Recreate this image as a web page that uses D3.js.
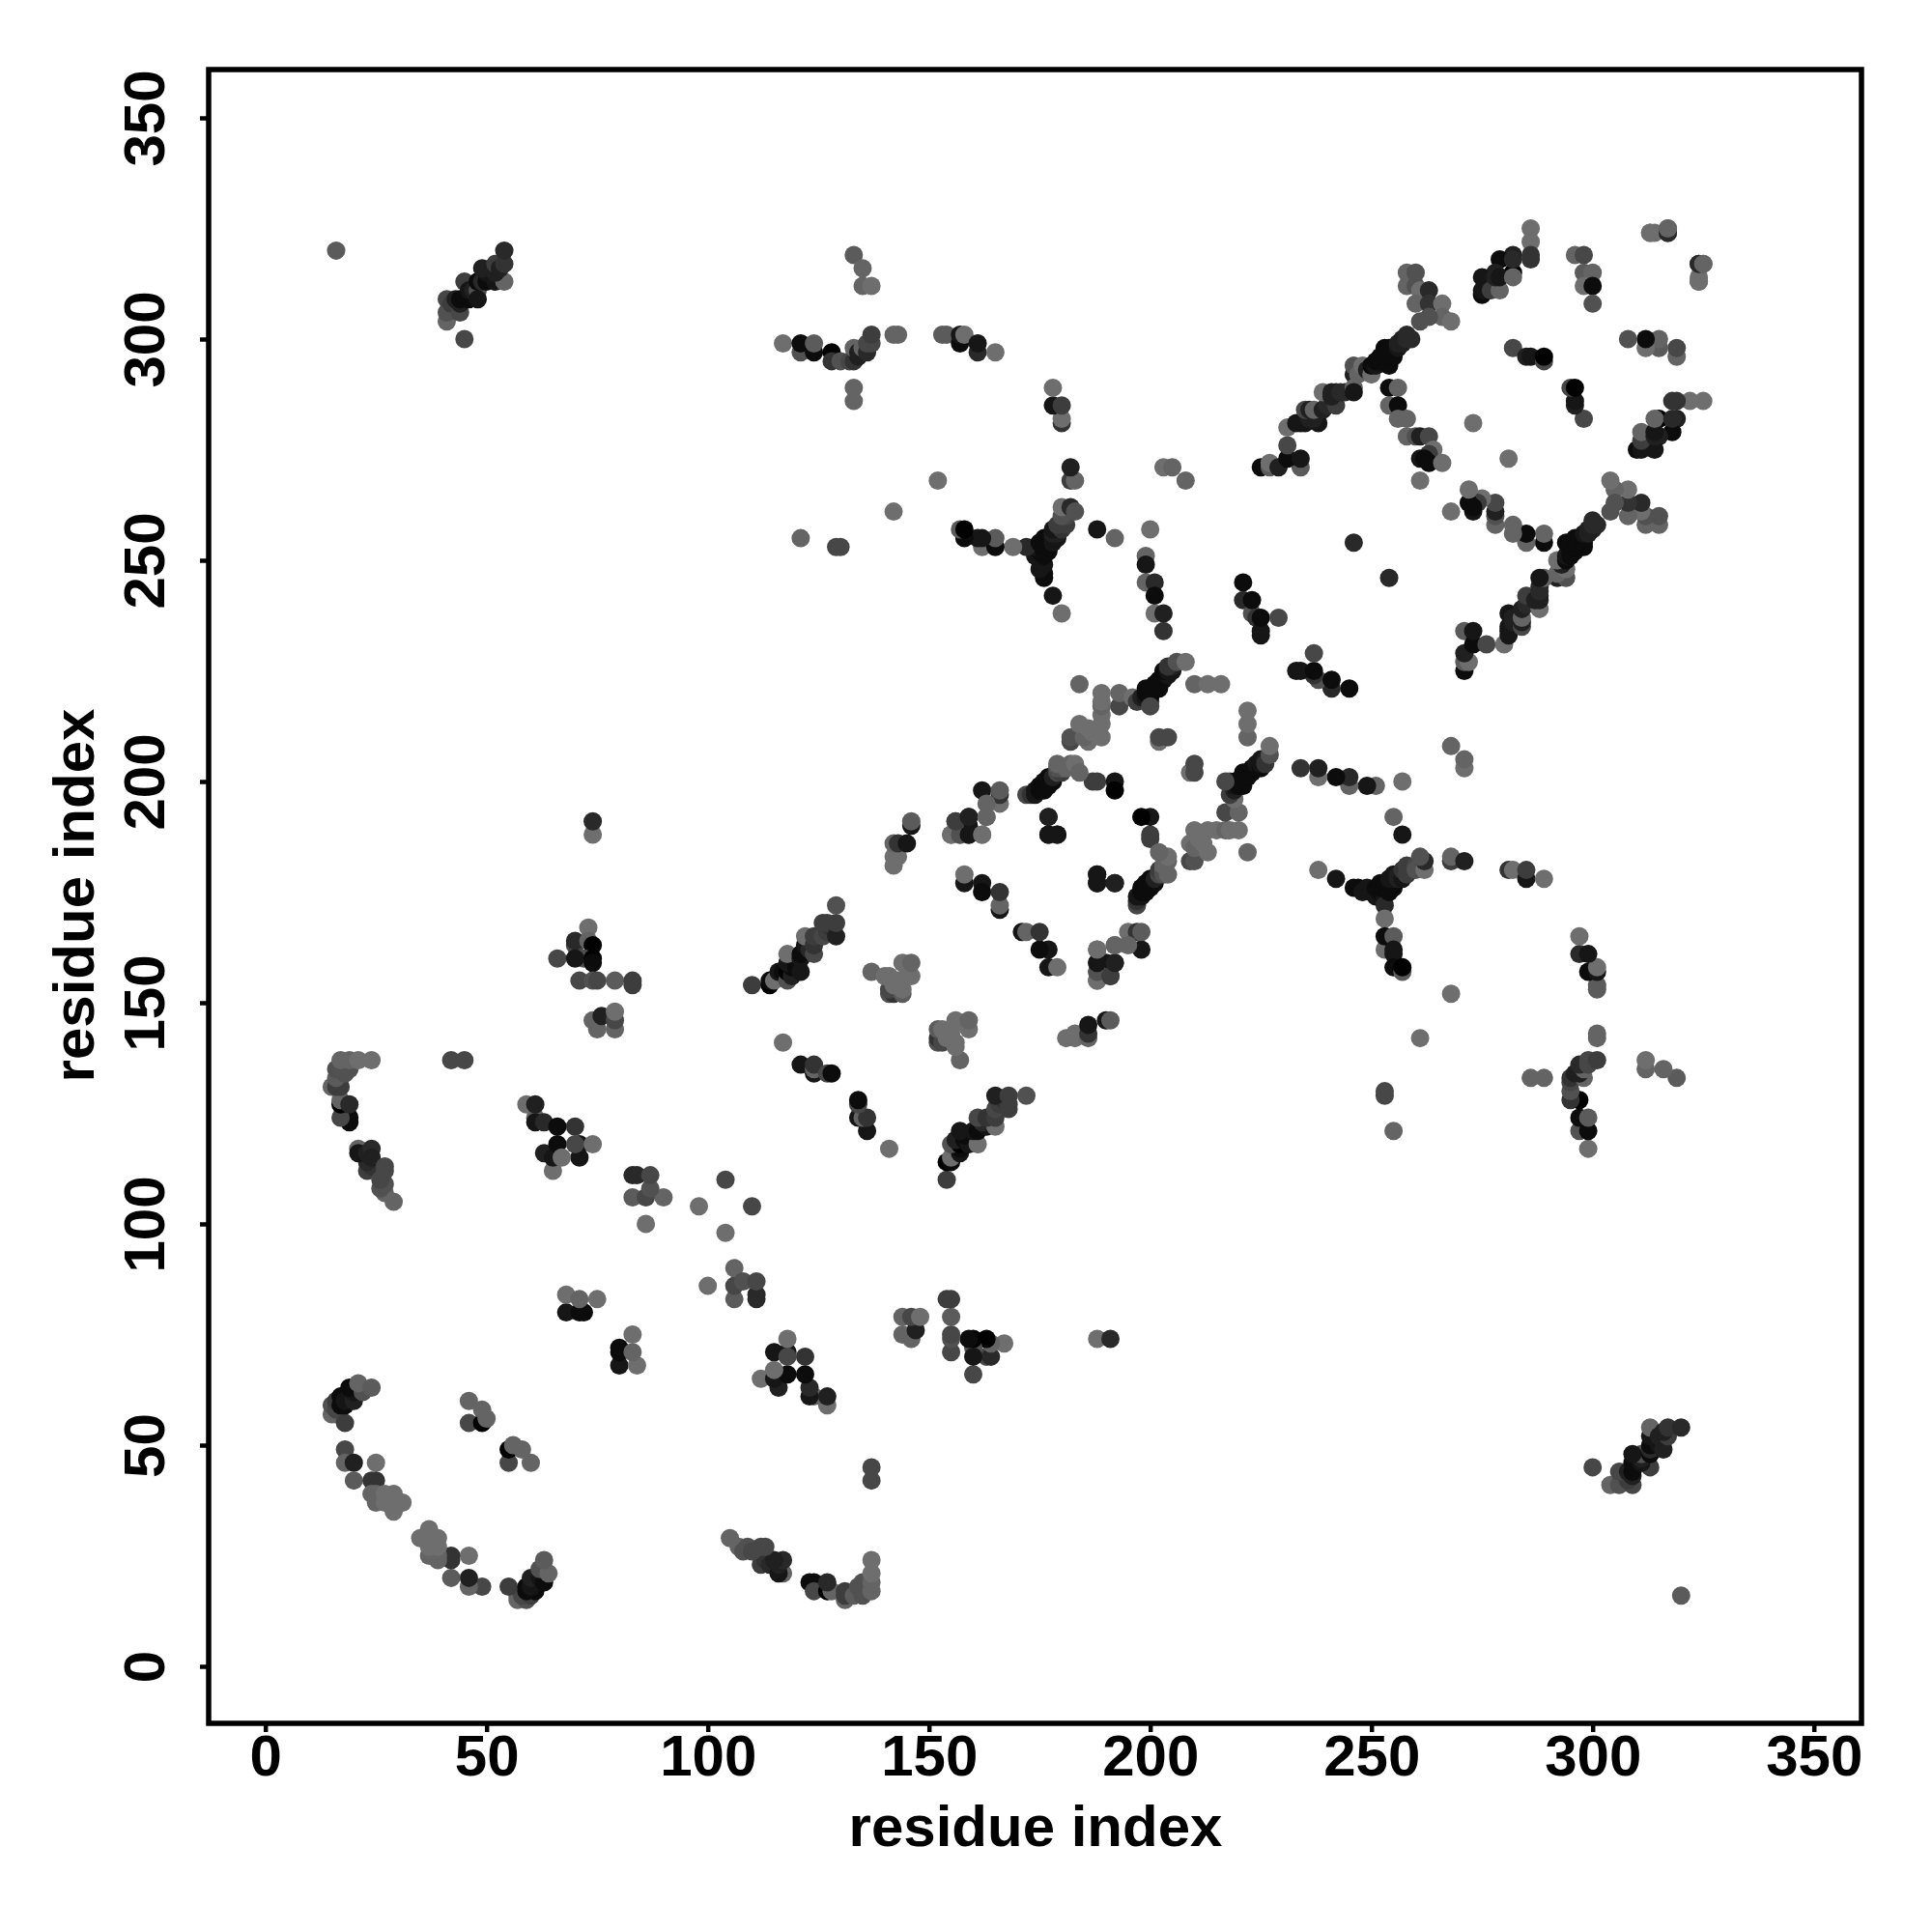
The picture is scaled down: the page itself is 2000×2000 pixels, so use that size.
<!DOCTYPE html>
<html>
<head>
<meta charset="utf-8">
<script src="https://cdn.jsdelivr.net/npm/d3@7"></script>
<style>html,body{margin:0;padding:0;background:#fff}svg{display:block}</style>
</head>
<body>
<div id="chart"></div>
<script>
// Each contact is [residue i, residue j, shade level]; the map is symmetric, both (i,j) and (j,i) are plotted.
const axisTicks = [0,50,100,150,200,250,300,350];
const axisTitle = "residue index";
const nTermArc = [[16,57,9],[15,57,10],[15,59,8],[16,58,7],[16,60,6],[18,55,6],[17,59,1],[18,59,1],[17,61,1],[18,60,2],[19,61,2],[20,60,3],[20,62,2],[19,63,1],[22,62,8],[21,64,10],[24,63,9],
 [18,49,7],[18,46,10],[20,46,3],[25,46,11],[20,42,9],[24,42,5],[25,42,5],[24,39,10],[25,39,10],[25,37,10],[27,39,11],[29,39,11],[27,37,11],[28,38,11],[31,37,11],[29,35,11]];
const nTermPatch = [[46,55,7],[49,55,0],[46,60,10],[49,58,10],[50,56,10],[68,80,2],[71,80,1],[72,80,1],[68,84,11],[71,83,10],[75,83,11],[86,100,11]];
const arcC = [[19,123,1],[19,124,1],[17,124,7],[17,127,0],[17,128,10],[19,127,4],[15,131,10],[16,131,6],[17,131,6],[16,133,9],[18,134,8],[16,135,8],[19,135,8],[17,137,10],[19,137,10],[21,137,11],[24,137,11],
 [23,112,6],[24,113,5],[23,114,4],[21,117,10],[21,116,2],[23,116,3],[24,117,4],[24,115,3],[29,105,10],[27,107,10],[26,108,8],[27,109,8],[26,110,7],[27,113,7],[27,112,7],[42,137,7],[45,137,7]];
const bandA = [[59,127,11],[61,124,10],[61,123,2],[61,127,3],[63,123,4],[66,122,1],[70,122,5],[65,112,11],[63,116,3],[65,115,2],[66,118,1],[71,115,2],[71,118,2],[70,118,7],[67,115,11],[74,118,11],
 [83,106,9],[86,106,7],[90,106,10],[87,108,8],[83,111,4],[84,111,4],[87,111,7],[98,104,11],[104,110,7]];
const bandB = [[74,188,11],[74,191,4],[73,167,11],[70,163,7],[70,164,4],[73,164,10],[74,163,0],[66,160,7],[72,160,8],[70,160,2],[74,160,0],[74,159,1],[71,155,7],[74,155,8],[75,155,7],[79,155,9],[83,154,6],[83,155,6],
 [75,144,10],[74,146,10],[76,147,3],[79,144,10],[79,146,7],[79,148,11]];
const chain0 = [[110,154,6],[114,154,0],[114,155,1],[115,155,11],[116,157,2],[117,157,1],[118,155,8],[118,157,0],[119,156,3],[119,158,1],[118,159,2],[120,158,1],[120,159,1],[118,161,11],[121,157,2],[121,160,2],[121,161,1],[122,163,2],[123,162,4],[122,165,11],[124,161,7],[124,163,5],[124,165,6],[126,165,7],[127,166,6],[126,168,6],[128,167,5],[127,168,6],[129,165,3],[129,168,6],[129,172,8]];
const clusterD = [[141,152,8],[142,152,5],[141,153,7],[144,152,9],[137,157,10],[140,156,11],[141,156,11],[142,154,11],[143,155,11],[144,153,11],[144,155,11],[146,156,11],[144,159,11],[146,159,10],
 [142,181,11],[142,183,11],[143,183,11],[142,186,10],[143,186,5],[145,186,2],[146,190,2],[146,191,9],
 [117,141,11],[121,136,2],[124,134,2],[124,135,10],[124,136,5],[127,134,7],[128,134,1]];
const bandE = [[166,195,11],[162,198,2],[166,197,5],[166,198,9],[163,195,10],[163,192,11],[159,192,3],[156,191,7],[159,190,2],[155,188,10],[157,188,6],[159,188,1],[162,188,11],
 [177,192,3],[177,188,1],[179,188,2],[158,177,2],[158,179,11],[162,177,2],[162,175,1],[166,171,2],[166,172,10],[166,175,5],
 [188,179,2],[188,177,2],[192,177,3],[188,155,11],[188,157,8],[188,159,2],[191,156,6],[192,159,3],[188,162,11],[192,163,10],
 [187,200,6],[188,200,6],[192,200,2],[192,198,0]];
const chainA = [[172,197,7],[173,197,5],[174,197,2],[174,198,2],[175,198,1],[175,199,1],[176,198,1],[176,199,1],[176,200,1],[177,199,1],[177,200,1],[177,201,1],[178,200,1],[178,201,3],[179,202,7],[180,202,6],[180,203,10],[179,203,8],[179,204,10],[181,203,10],[182,204,10],[183,204,11],[184,202,10],
 [182,209,7],[182,210,8],[186,209,11],[185,210,10],[189,210,11],[187,211,11],[186,212,11],[184,213,11],[189,213,11],[189,215,11],[189,217,10],[189,218,11],[189,220,11],[184,222,10],[193,217,7],[193,220,10],[196,219,11]];
const chainB = [[197,218,6],[200,218,8],[198,219,3],[199,219,2],[200,219,1],[199,220,1],[199,221,1],[200,220,1],[200,221,1],[201,221,1],[202,221,1],[201,222,1],[202,222,1],[202,223,1],[203,223,1],[203,224,1],[204,224,2],[203,225,1],[204,225,2],[205,225,2],[205,226,3],[204,226,5],[206,227,8],[208,227,11],[200,217,7],
 [210,222,10],[213,222,11],[216,222,11],[202,209,11],[202,210,7],[204,210,7]];
const bandF = [[221,245,1],[221,241,4],[223,238,8],[223,241,1],[224,237,5],[225,233,2],[225,234,2],[225,237,1],[229,237,7],
 [203,271,11],[205,271,10],[208,268,10],[200,257,11],[188,257,2],[192,255,10],[199,251,10],[199,249,2],[199,245,10],[201,245,4],[201,242,1],[201,238,11],[203,238,3],[203,234,5],[246,254,4]];
const upperV = [[180,238,11],[178,242,2],[176,246,1],[176,247,1],[175,248,2],[176,249,2],[175,250,2],[174,251,2],[176,251,1],[175,252,1],[177,252,1],[162,253,11],[174,253,2],[172,253,4],[169,253,11],[165,253,1],[165,255,9],[162,255,2],[161,255,2],[158,255,1],[157,257,9],[158,257,0],
 [176,252,1],[176,253,1],[177,253,1],[175,254,1],[177,254,1],[176,255,1],[177,255,1],[178,254,2],[178,255,2],[179,255,2],[178,256,3],[179,256,3],[178,257,2],[180,257,5],[180,258,5],[179,258,6],[181,258,6],[181,260,7],[180,260,8],[180,262,11],[182,262,4],[183,261,8],
 [182,268,6],[183,268,10],[182,271,3],[180,281,5],[180,282,11],[178,285,2],[180,285,6],[178,289,11],[152,268,11],[142,261,11],[121,255,10],[129,253,7],[130,253,7]];
const topBand = [[117,299,11],[121,297,8],[121,299,1],[124,297,1],[124,299,9],[128,297,0],[128,295,5],[130,295,8],[132,295,7],[133,295,5],[134,296,3],[133,298,10],[134,297,3],[135,298,10],[136,297,4],[136,299,7],[137,299,7],[137,301,6],[142,301,10],[143,301,10],[133,286,10],[133,289,10],
 [133,319,9],[135,312,10],[135,316,10],[137,312,11],[153,301,9],[154,301,9],[157,299,1],[157,301,2],[158,301,11],[161,297,4],[161,299,2],[165,297,11]];
const farGroup = [[286,325,11],[286,322,11],[286,319,5],[282,319,3],[279,318,1],[282,315,0],[278,315,3],[277,312,3],[275,314,2],[275,310,1],[275,311,2],[277,311,6],[279,311,10],[278,314,3],[279,314,2],[282,314,10],[282,318,4],[286,318,5],
 [296,319,10],[298,319,7],[298,315,9],[300,315,10],[298,312,11],[300,312,1],[300,308,8],[313,324,11],[314,324,11],[317,324,5],[317,325,10],[324,313,11],[324,317,4],[325,317,10],
 [258,312,10],[258,315,10],[260,315,8],[260,312,8],[261,311,11],[263,311,4],[260,308,10],[263,308,5],[266,308,11],[266,305,10],[263,305,8],[261,304,8],[268,304,11]];
const chainD = [[246,292,3],[246,294,8],[247,292,10],[248,294,11],[249,293,3],[250,292,11],[250,294,1],[251,294,2],[251,295,1],[252,295,1],[252,296,1],[253,296,1],[253,297,1],[254,294,1],[254,296,1],[255,296,1],[255,297,1],[253,298,1],[254,298,1],[255,298,1],[256,298,2],[256,299,3],[257,299,3],[257,300,3],[258,300,4],[258,301,4],[259,300,4]];
const chainF = [[225,271,1],[227,271,9],[227,272,11],[229,271,3],[234,271,9],[231,273,1],[234,273,2],[231,276,7],[231,280,11],[233,281,2],[234,281,2],[235,281,2],[238,281,2],[236,282,3],[237,282,3],[235,284,7],[236,284,3],[237,284,10],[239,284,3],[240,285,4],[242,285,6],[239,288,11],[241,287,3],[241,288,3],[242,288,3],[243,288,4],[244,288,4],[246,289,10],[246,288,2]];
const rightBand = [[254,289,1],[256,289,10],[254,285,10],[256,285,1],[256,282,10],[258,282,10],[258,278,10],[260,278,8],[261,278,3],[263,278,7],[264,275,11],[263,274,6],[261,273,2],[262,273,1],[263,272,1],[266,272,11],[261,268,11],
 [273,281,11],[282,298,7],[285,296,3],[286,296,2],[289,295,7],[289,296,0]];
const cornerPatch = [[16,320,9],[41,304,10],[41,306,8],[41,309,7],[42,308,6],[43,309,3],[44,306,7],[44,308,3],[44,309,1],[45,300,7],[45,313,6],[46,309,1],[46,311,2],[47,311,3],[48,311,8],[48,309,2],[48,313,1],[49,313,4],[50,313,1],[50,315,2],[49,316,3],[51,316,3],[52,313,2],[54,313,10],[52,315,3],[52,317,6],[53,316,3],[54,317,5],[54,320,4]];

const contacts = [].concat(nTermArc,nTermPatch,arcC,bandA,bandB,chain0,clusterD,bandE,chainA,chainB,bandF,upperV,topBand,farGroup,chainD,chainF,rightBand,cornerPatch);
const points = contacts.flatMap(([i,j,s]) => [{x:i,y:j,s},{x:j,y:i,s}]);

const W=2000,H=2000;
const frame={l:216,r:1927,t:72,b:1784};
const x=d3.scaleLinear().domain([0,350]).range([274.7,1877.7]);
const y=d3.scaleLinear().domain([0,350]).range([1725,122]);
const shade=d3.scaleLinear().domain([0,12]).range(["#020202","#787878"]);

const svg=d3.select("#chart").append("svg").attr("width",W).attr("height",H).attr("viewBox",[0,0,W,H])
  .style("font-family","'Liberation Sans',Arial,sans-serif").style("font-weight","bold");

svg.append("g").selectAll("circle").data(points).join("circle")
  .attr("cx",d=>x(d.x)).attr("cy",d=>y(d.y)).attr("r",9.5).attr("fill",d=>shade(d.s));

svg.append("rect").attr("x",frame.l).attr("y",frame.t).attr("width",frame.r-frame.l).attr("height",frame.b-frame.t)
  .attr("fill","none").attr("stroke","#000").attr("stroke-width",5.5);

const gx=svg.append("g").attr("transform",`translate(0,${frame.b})`)
  .call(d3.axisBottom(x).tickValues(axisTicks).tickSize(9).tickPadding(0).tickFormat(d3.format("d")));
gx.select(".domain").remove();
gx.selectAll("line").attr("stroke","#000").attr("stroke-width",4.5);
gx.selectAll("text").attr("y",0).attr("dy",0).attr("transform","translate(0,54)").attr("font-size",60).attr("fill","#000")
  .attr("font-family","'Liberation Sans',Arial,sans-serif").attr("font-weight","bold");

const gy=svg.append("g").attr("transform",`translate(${frame.l},0)`)
  .call(d3.axisLeft(y).tickValues(axisTicks).tickSize(9).tickPadding(0).tickFormat(d3.format("d")));
gy.select(".domain").remove();
gy.selectAll("line").attr("stroke","#000").attr("stroke-width",4.5);
gy.selectAll("text").attr("x",0).attr("dy",0).attr("text-anchor","middle").attr("transform","translate(-46,0) rotate(-90)")
  .attr("font-size",60).attr("fill","#000").attr("font-family","'Liberation Sans',Arial,sans-serif").attr("font-weight","bold");

svg.append("text").attr("x",1072).attr("y",1911).attr("text-anchor","middle").attr("font-size",60).text(axisTitle);
svg.append("text").attr("transform","translate(97,927) rotate(-90)").attr("text-anchor","middle").attr("font-size",60).text(axisTitle);
</script>
</body>
</html>
